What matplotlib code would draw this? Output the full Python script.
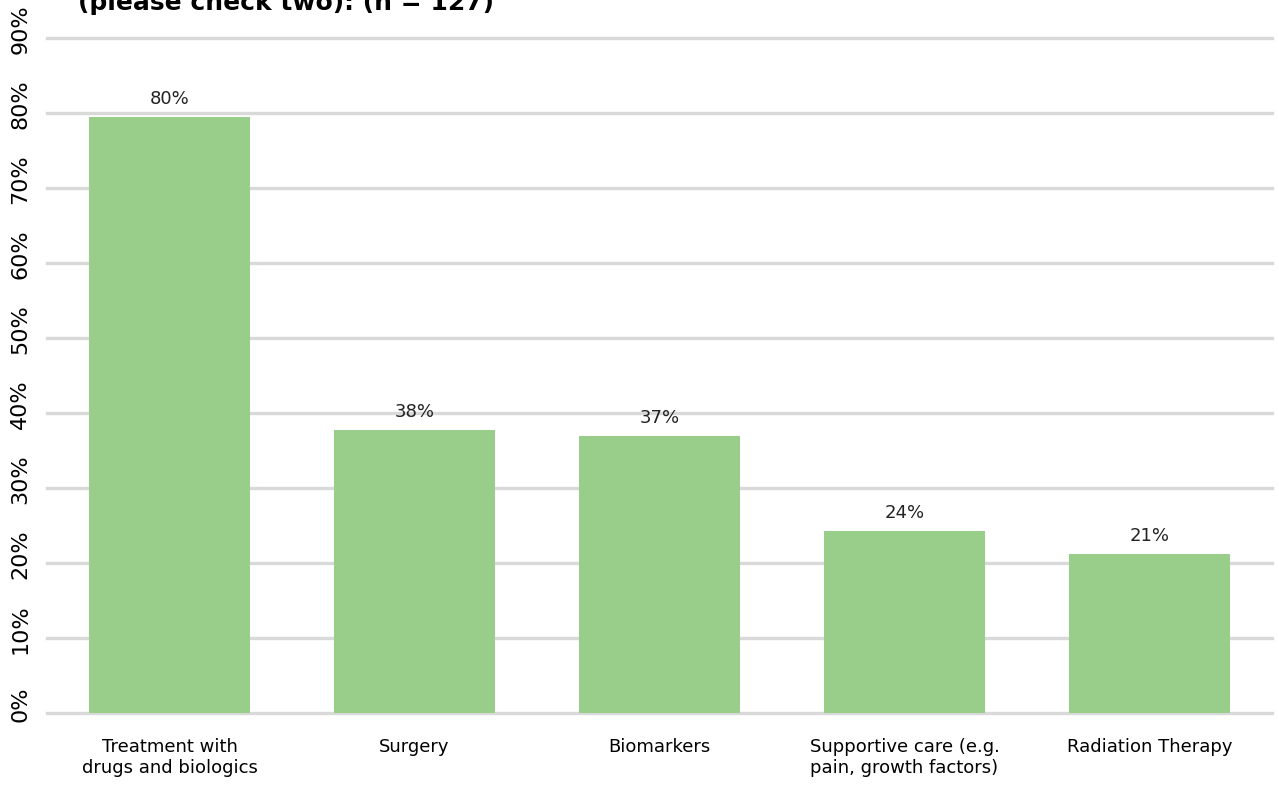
import matplotlib.pyplot as plt
import matplotlib.transforms as mtransforms
from matplotlib.ticker import MultipleLocator, FuncFormatter

categories = ["Treatment with\ndrugs and biologics", "Surgery", "Biomarkers",
              "Supportive care (e.g.\npain, growth factors)", "Radiation Therapy"]
values = [79.5, 37.7, 36.9, 24.3, 21.2]
value_labels = ["80%", "38%", "37%", "24%", "21%"]

fig = plt.figure(figsize=(12.79, 7.87), dpi=100)
ax = fig.add_axes([47 / 1279, 1 - 713 / 787, 1225 / 1279, 675 / 787])

x = range(len(categories))
bars = ax.bar(x, values, width=0.66, color="#98CE8A", zorder=3)
for b, lab in zip(bars, value_labels):
    ax.text(b.get_x() + b.get_width() / 2, b.get_height() + 1.2, lab,
            ha="center", va="bottom", fontsize=13, color="#222222")

ax.set_xlim(-0.5, len(categories) - 0.5)
ax.set_ylim(0, 90)
ax.yaxis.set_major_locator(MultipleLocator(10))
ax.yaxis.set_major_formatter(FuncFormatter(lambda v, p: f"{v:.0f}%"))
ax.grid(axis="y", color="#d9d9d9", linewidth=2.4, zorder=0)
ax.set_axisbelow(True)
for s in ax.spines.values():
    s.set_visible(False)
ax.tick_params(axis="both", length=0)
ax.tick_params(axis="y", labelsize=16, pad=12)
ax.tick_params(axis="x", labelsize=13, pad=18)
ax.set_xticks(list(x))
ax.set_xticklabels(categories)
shift = mtransforms.ScaledTranslation(0, 9 / 100, fig.dpi_scale_trans)
for t in ax.get_yticklabels():
    t.set_rotation(90)
    t.set_va("center")
    t.set_transform(t.get_transform() + shift)
for gl in ax.get_ygridlines():
    gl.set_clip_on(False)

# title sits partly above the canvas, as in the source image
fig.text(78 / 1279, 1 - 10 / 787, "(please check two): (n = 127)",
         fontsize=18, fontweight="bold", ha="left", va="baseline")

fig.savefig("out.png", dpi=100)
